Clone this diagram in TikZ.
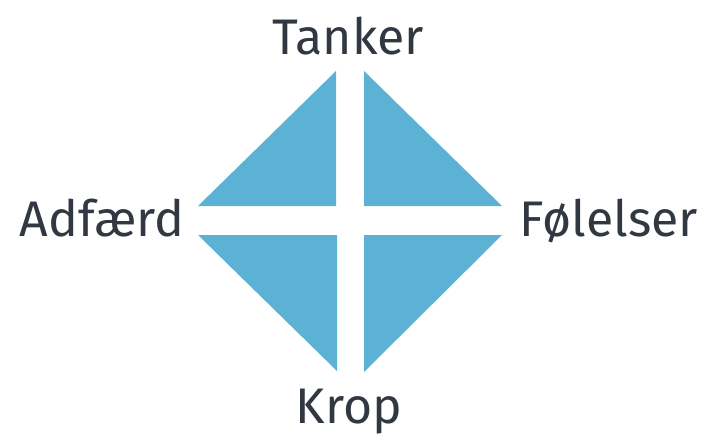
\documentclass[tikz,border=0pt]{standalone}
\usepackage{fontspec}
\setmainfont{Fira Sans}
\definecolor{tri}{RGB}{92,178,213}
\definecolor{txt}{RGB}{50,56,66}
\begin{document}
\begin{tikzpicture}[x=1pt,y=-1pt,
  lbl/.style={anchor=base,text=txt,inner sep=0pt,font=\fontsize{50}{60}\selectfont},
  tri/.style={fill=tri,draw=none}]
\useasboundingbox[fill=white] (0,0) rectangle (707,436);
\fill[tri] (336,71) -- (198,206) -- (336,206) -- cycle;
\fill[tri] (364,71) -- (502,206) -- (364,206) -- cycle;
\fill[tri] (198,235) -- (337,235) -- (337,371) -- cycle;
\fill[tri] (364,235) -- (502,235) -- (364,372) -- cycle;
\node[lbl] (tanker) at (348,55) {Tanker};
\node[lbl] (adfaerd) at (102,236) {Adfærd};
\node[lbl] (folelser) at (609,236) {Følelser};
\node[lbl] (krop) at (349,423) {Krop};
\end{tikzpicture}
\end{document}
